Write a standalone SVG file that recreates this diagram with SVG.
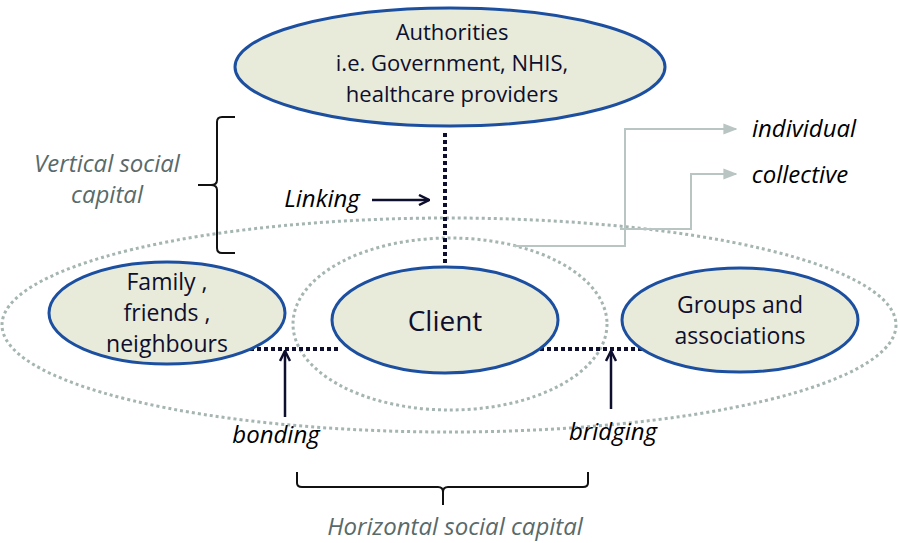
<svg xmlns="http://www.w3.org/2000/svg" width="898" height="543" viewBox="0 0 898 543">
<defs>
<style>
.node{fill:#e8ebd9;stroke:#1c4fa0;stroke-width:3}
.ring{fill:none;stroke:#a5b5b2;stroke-width:3;stroke-dasharray:3 3}
.dot{fill:none;stroke:#0e0e2e;stroke-width:4;stroke-dasharray:4 3}
.arr{fill:none;stroke:#0e0e2e;stroke-width:2.5}
.garr{fill:none;stroke:#b9c5c3;stroke-width:2}
.brace{fill:none;stroke:#111;stroke-width:2}
.t{font-family:"Open Sans","Noto Sans",sans-serif;font-size:23px;fill:#0e0e2e;text-anchor:middle}
.it{font-family:"Open Sans","Noto Sans",sans-serif;font-size:24px;font-style:italic;fill:#000;text-anchor:middle}
.gt{font-family:"Open Sans","Noto Sans",sans-serif;font-size:24px;font-style:italic;fill:#586a6a;text-anchor:middle}
</style>
<marker id="ah" viewBox="0 0 10 10" refX="9" refY="5" markerWidth="5" markerHeight="5" orient="auto" markerUnits="strokeWidth">
<path d="M1,1 L9,5 L1,9" fill="none" stroke="#0e0e2e" stroke-width="2"/>
</marker>
<marker id="gh" viewBox="0 0 10 10" refX="9" refY="5" markerWidth="7" markerHeight="7" orient="auto" markerUnits="strokeWidth">
<path d="M0,1 L10,5 L0,9 Z" fill="#b9c5c3"/>
</marker>
</defs>
<rect width="898" height="543" fill="#fff"/>
<g id="rings">
<ellipse class="ring" cx="449" cy="325" rx="447" ry="107"/>
<ellipse class="ring" cx="450" cy="324" rx="157" ry="86"/>
</g>
<g id="connectors">
<line class="dot" x1="445" y1="133" x2="445" y2="268"/>
<line class="dot" x1="250" y1="349" x2="340" y2="349"/>
<line class="dot" x1="540" y1="349" x2="649" y2="349"/>
<line class="arr" x1="372" y1="200" x2="429" y2="200" marker-end="url(#ah)"/>
<line class="arr" x1="285" y1="417" x2="285" y2="351" marker-end="url(#ah)"/>
<line class="arr" x1="611" y1="409" x2="611" y2="351" marker-end="url(#ah)"/>
<polyline class="garr" points="513,246 625,246 625,129 736,129" marker-end="url(#gh)"/>
<polyline class="garr" points="620,229 691,229 691,174 736,174" marker-end="url(#gh)"/>
</g>
<g id="authorities">
<ellipse class="node" cx="450" cy="67" rx="215" ry="59"/>
<text class="t" x="452" y="40" style="font-size:22px">Authorities</text>
<text class="t" x="452" y="71" style="font-size:22px">i.e. Government, NHIS,</text>
<text class="t" x="452" y="102" style="font-size:22px">healthcare providers</text>
</g>
<g id="family">
<ellipse class="node" cx="167" cy="313" rx="118" ry="51"/>
<text class="t" x="167" y="290">Family ,</text>
<text class="t" x="167" y="321">friends ,</text>
<text class="t" x="167" y="352">neighbours</text>
</g>
<g id="client">
<ellipse class="node" cx="445" cy="320" rx="113" ry="53"/>
<text class="t" x="445" y="331" style="font-size:28px">Client</text>
</g>
<g id="groups">
<ellipse class="node" cx="740" cy="320" rx="118" ry="52"/>
<text class="t" x="740" y="313">Groups and</text>
<text class="t" x="740" y="344">associations</text>
</g>
<g id="braces">
<path class="brace" d="M235,117 L222,117 Q217,117 217,122 L217,180 Q217,185 211,185 L198,185 M211,185 Q217,185 217,190 L217,248 Q217,253 222,253 L235,253"/>
<path class="brace" d="M297,472 L297,483 Q297,487 302,487 L438,487 Q443,487 443,492 L443,505 M443,492 Q443,487 448,487 L583,487 Q588,487 588,483 L588,472"/>
</g>
<g id="labels">
<text class="gt" x="107" y="172">Vertical social</text>
<text class="gt" x="107" y="203">capital</text>
<text class="it" x="322" y="207">Linking</text>
<text class="it" x="276" y="443">bonding</text>
<text class="it" x="613" y="440">bridging</text>
<text class="it" x="804" y="137">individual</text>
<text class="it" x="800" y="183">collective</text>
<text class="gt" x="455" y="535">Horizontal social capital</text>
</g>
</svg>
